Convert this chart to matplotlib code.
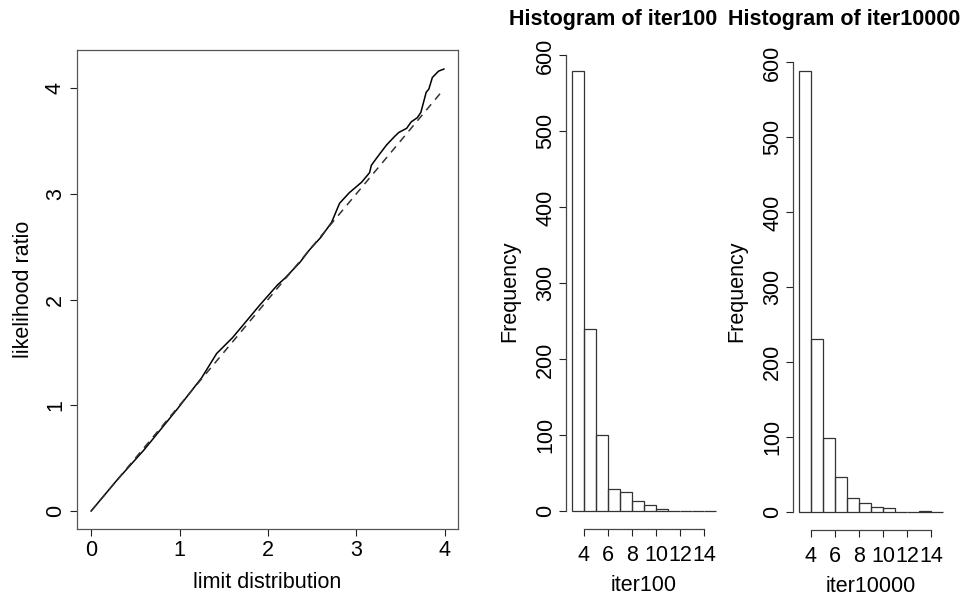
import numpy as np
import matplotlib
matplotlib.use("Agg")
import matplotlib.pyplot as plt

plt.rcParams['font.family'] = ['Liberation Sans', 'DejaVu Sans']
plt.rcParams['font.size'] = 15.5

# quantiles
limit_q = [0, 0.29, 0.60, 0.97, 1.25, 1.42, 1.60, 1.79, 1.91, 2.11, 2.19, 2.36, 2.47,
           2.60, 2.72, 2.81, 2.92, 3.06, 3.11, 3.15, 3.17, 3.24, 3.34, 3.43, 3.48,
           3.57, 3.62, 3.69, 3.73, 3.79, 3.82, 3.86, 3.93, 3.99]
lr_q = [0, 0.29, 0.58, 0.96, 1.26, 1.49, 1.64, 1.83, 1.95, 2.14, 2.20, 2.35, 2.47,
        2.59, 2.73, 2.91, 3.01, 3.11, 3.16, 3.20, 3.27, 3.35, 3.46, 3.54, 3.58,
        3.62, 3.68, 3.72, 3.77, 3.96, 3.99, 4.10, 4.16, 4.18]
ref_line = [0, 3.97]

# histograms
breaks = np.arange(3, 16)
counts100 = [580, 240, 100, 29, 26, 14, 9, 3, 0, 0, 0, 0]
counts10000 = [589, 231, 99, 47, 19, 12, 7, 6, 0, 0, 2, 0]
hist_xticks = [4, 6, 8, 10, 12, 14]
hist_yticks = [0, 100, 200, 300, 400, 500, 600]

W, H = 964, 598
fig = plt.figure(figsize=(W / 100, H / 100), dpi=100)

lc = '#222222'

# qq plot
ax1 = fig.add_axes([77 / W, 69 / H, 381 / W, 479 / H])
ax1.plot(limit_q, lr_q, color='black', lw=1.1)
ax1.plot(ref_line, ref_line, color='#333333', lw=1.1, dashes=(5, 4))
ax1.set_xlim(-0.16, 4.15)
ax1.set_ylim(-0.17, 4.36)
ax1.set_xticks([0, 1, 2, 3, 4])
ax1.set_yticks([0, 1, 2, 3, 4])
ax1.tick_params(length=5, width=0.8, pad=3, color=lc)
ax1.tick_params(axis='y', labelrotation=90)
for lab in ax1.get_yticklabels():
    lab.set_va('center')
for s in ax1.spines.values():
    s.set_linewidth(0.9)
    s.set_color('#555555')
ax1.set_xlabel('limit distribution', labelpad=8)
ax1.set_ylabel('likelihood ratio', labelpad=7.5)


def hist_panel(rect, counts, name, ytop):
    ax = fig.add_axes(rect)
    ax.bar(breaks[:-1], counts, width=1, align='edge', fill=False,
           edgecolor='#333333', linewidth=0.9)
    ax.set_xlim(2.52, 15.48)
    ax.set_ylim(-0.04 * ytop, 1.04 * ytop)
    for k in ['top', 'right']:
        ax.spines[k].set_visible(False)
    ax.spines['left'].set_bounds(0, 600)
    ax.spines['bottom'].set_bounds(4, 14)
    for k in ['left', 'bottom']:
        ax.spines[k].set_linewidth(0.9)
        ax.spines[k].set_color('#444444')
    ax.set_xticks(hist_xticks)
    ax.set_yticks(hist_yticks)
    ax.tick_params(length=5, width=0.8, pad=3, color=lc)
    ax.tick_params(axis='x', pad=6.2)
    ax.tick_params(axis='y', labelrotation=90, pad=2)
    for lab in ax.get_yticklabels():
        lab.set_va('center')
    ax.set_xlabel(name, labelpad=6.5)
    ax.set_ylabel('Frequency', labelpad=11)
    return ax


ax2 = hist_panel([566 / W, 69 / H, 156 / W, 476 / H], counts100, 'iter100', 580)
ax3 = hist_panel([793 / W, 68 / H, 156 / W, 477 / H], counts10000, 'iter10000', 589)

fig.text(613 / W, 1 - 25 / H, 'Histogram of iter100', ha='center', va='baseline',
         fontweight='bold')
fig.text(844 / W, 1 - 25 / H, 'Histogram of iter10000', ha='center', va='baseline',
         fontweight='bold')

fig.savefig('out.png', dpi=100)
